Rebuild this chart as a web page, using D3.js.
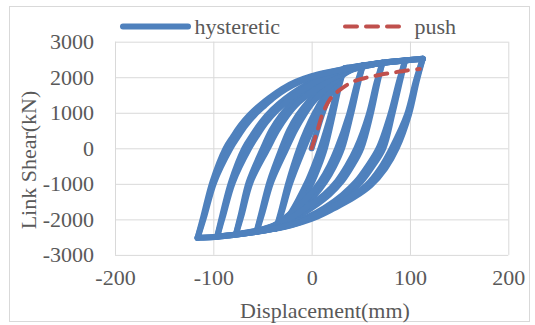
<!DOCTYPE html>
<html><head><meta charset="utf-8">
<script src="https://cdn.jsdelivr.net/npm/d3@7"></script>
<style>
body{margin:0;background:#fff}
svg{display:block}
text{font-family:"Liberation Serif","Times New Roman",serif;fill:#595959}
</style></head>
<body><svg id="c" width="535" height="325"></svg>
<script>
// ---- data (x: displacement mm, y: link shear kN) ----
const xTicks = [-200, -100, 0, 100, 200];
const yTicks = [-3000, -2000, -1000, 0, 1000, 2000, 3000];
const seriesNames = ["hysteretic", "push"];

const initialLoading = [[0,0],[5,450],[10,900],[16,1350],[23,1750],[28,2020],[33,2240]];

const loop1 = [
  [[33,2240],[28,1750],[22,1000],[13.5,0],[7,-520],[0,-980],[-9,-1420],[-20,-1850],[-28,-2080],[-36,-2250]],
  [[-36,-2250],[-31,-1760],[-24,-1000],[-12.5,0],[-5,520],[3,980],[12,1420],[22,1850],[28,2070],[33,2240]],
  [[33,2240],[27,1750],[20,1000],[9,0],[2,-520],[-5,-980],[-13,-1420],[-22,-1850],[-29,-2080],[-36,-2250]],
  [[-36,-2250],[-30,-1760],[-22,-1000],[-8,0],[0,520],[7,980],[15,1420],[24,1850],[30,2080],[33,2240],[42,2290],[52,2330]]
];
const loop2 = [
  [[52,2330],[47,1800],[40,950],[31,0],[23,-500],[14,-930],[3,-1320],[-11,-1680],[-26,-2000],[-40,-2210],[-56,-2345]],
  [[-56,-2345],[-51,-1810],[-43,-950],[-30.5,0],[-23,500],[-14,930],[-3,1320],[11,1690],[26,2010],[40,2220],[52,2330]],
  [[52,2330],[46,1800],[38,950],[26,0],[18,-500],[9,-930],[-2,-1320],[-15,-1680],[-29,-2000],[-42,-2220],[-56,-2345]],
  [[-56,-2345],[-50,-1810],[-41,-950],[-25.5,0],[-17,500],[-8,930],[2,1320],[15,1690],[29,2010],[42,2230],[52,2330],[62,2370],[72,2405]]
];
const loop3 = [
  [[72,2405],[67,1850],[60,950],[50.5,0],[41,-500],[31,-920],[18,-1300],[2,-1640],[-16,-1950],[-35,-2170],[-56,-2320],[-77,-2415]],
  [[-77,-2415],[-72,-1860],[-64,-950],[-49.5,0],[-41,500],[-31,920],[-19,1300],[-2,1650],[16,1960],[35,2180],[55,2320],[72,2405]],
  [[72,2405],[66,1850],[58,950],[45.5,0],[36,-500],[26,-920],[13,-1300],[-4,-1640],[-21,-1950],[-39,-2180],[-58,-2330],[-77,-2415]],
  [[-77,-2415],[-71,-1860],[-62,-950],[-44.5,0],[-35,500],[-25,920],[-13,1300],[4,1650],[21,1960],[39,2190],[58,2330],[72,2405],[84,2440],[95,2470]]
];
const loop4 = [
  [[95,2470],[90,1900],[82,950],[73,0],[62,-500],[50,-950],[36,-1320],[17,-1680],[-2,-1950],[-20,-2140],[-40,-2270],[-60,-2360],[-78,-2430],[-96,-2480]],
  [[-96,-2480],[-91,-1900],[-82,-950],[-68.5,0],[-60,380],[-51,740],[-40,1080],[-27,1390],[-12,1680],[4,1930],[22,2130],[40,2260],[60,2360],[78,2430],[95,2470]],
  [[95,2470],[89,1900],[80,950],[68,0],[57,-500],[45,-950],[31,-1320],[13,-1680],[-5,-1950],[-23,-2150],[-42,-2280],[-61,-2370],[-78,-2435],[-96,-2480]],
  [[-96,-2480],[-90,-1900],[-80,-950],[-63.5,0],[-55,380],[-46,740],[-35,1080],[-22,1390],[-7,1680],[8,1930],[25,2140],[43,2270],[62,2365],[80,2435],[95,2470],[104,2500],[113,2520]]
];
const loop5 = [
  [[113,2520],[107,1900],[99,950],[86.5,0],[75,-560],[60,-1040],[43,-1380],[22,-1700],[6,-1920],[-10,-2080],[-27,-2210],[-45,-2300],[-61,-2370],[-80,-2440],[-96,-2490],[-116,-2520]],
  [[-116,-2520],[-110,-1900],[-101,-950],[-87.5,0],[-80,330],[-72,650],[-63,940],[-53,1200],[-42,1440],[-30,1670],[-16,1870],[0,2030],[18,2150],[36,2250],[54,2330],[72,2400],[95,2470],[113,2520]],
  [[113,2520],[106,1900],[97,950],[81.5,0],[70,-560],[56,-1040],[39,-1380],[18,-1700],[2,-1920],[-13,-2090],[-30,-2220],[-48,-2310],[-64,-2380],[-82,-2445],[-98,-2495],[-116,-2520]],
  [[-116,-2520],[-109,-1900],[-99,-950],[-82.5,0],[-75,330],[-67,650],[-58,940],[-48,1200],[-38,1440],[-26,1670],[-12,1870],[3,2030],[20,2150],[38,2255],[55,2335],[73,2405],[96,2475],[113,2520]]
];

const pushCurve = [[0,0],[5,420],[12,1030],[20,1430],[29,1650],[42,1875],[56,1990],[70,2070],[83,2130],[97,2190],[110,2230]];

// ---- drawing ----
const svg = d3.select("#c");
const blue = "#4F81BD", red = "#C0504D", grid = "#D9D9D9";

svg.append("rect").attr("x",9.5).attr("y",6.5).attr("width",520).attr("height",315)
  .attr("fill","#fff").attr("stroke",grid).attr("stroke-width",1);

const x = d3.scaleLinear().domain([-200,200]).range([115,508.3]);
const y = d3.scaleLinear().domain([-3000,3000]).range([254.9,41.7]);
const fmt = d => String(d);

const gy = svg.append("g").attr("transform",`translate(${x(-200)},0)`)
  .call(d3.axisLeft(y).tickValues(yTicks).tickFormat(fmt)
    .tickSizeInner(-(x(200)-x(-200))).tickSizeOuter(0).tickPadding(21));
const gx = svg.append("g").attr("transform",`translate(0,${y(-3000)})`)
  .call(d3.axisBottom(x).tickValues(xTicks).tickFormat(fmt)
    .tickSizeInner(-(y(-3000)-y(3000))).tickSizeOuter(0).tickPadding(14));
[gx,gy].forEach(g=>{
  g.select(".domain").remove();
  g.selectAll(".tick line").attr("stroke",grid).attr("stroke-width",1);
  g.selectAll(".tick text").attr("fill","#595959").style("font-size","22px")
    .style("font-family",'"Liberation Serif","Times New Roman",serif');
});

const line = d3.line().x(d=>x(d[0])).y(d=>y(d[1])).curve(d3.curveCatmullRom.alpha(0.5));
const branches = [initialLoading, ...loop1, ...loop2, ...loop3, ...loop4, ...loop5];
svg.append("g").selectAll("path").data(branches).join("path")
  .attr("d", line).attr("fill","none").attr("stroke",blue).attr("stroke-width",6)
  .attr("stroke-linejoin","round").attr("stroke-linecap","round");

svg.append("path").datum(pushCurve).attr("d", line).attr("fill","none")
  .attr("stroke",red).attr("stroke-width",4).attr("stroke-dasharray","12 9")
  .attr("stroke-linecap","round");

// legend
const lg = svg.append("g");
lg.append("line").attr("x1",123).attr("x2",188).attr("y1",26.6).attr("y2",26.6)
  .attr("stroke",blue).attr("stroke-width",6).attr("stroke-linecap","round");
lg.append("text").attr("x",194.5).attr("y",26.6).attr("dy","0.32em").style("font-size","22px").text(seriesNames[0]);
lg.append("line").attr("x1",345).attr("x2",407).attr("y1",26.6).attr("y2",26.6)
  .attr("stroke",red).attr("stroke-width",4).attr("stroke-dasharray","12 9").attr("stroke-linecap","round");
lg.append("text").attr("x",414.5).attr("y",26.6).attr("dy","0.32em").style("font-size","22px").text(seriesNames[1]);

// axis titles
svg.append("text").attr("x",325).attr("y",311).attr("dy","0.32em").attr("text-anchor","middle")
  .style("font-size","22px").text("Displacement(mm)");
svg.append("text").attr("transform","translate(29,160) rotate(-90)").attr("dy","0.32em")
  .attr("text-anchor","middle").style("font-size","22px").text("Link Shear(kN)");
</script>
</body></html>
